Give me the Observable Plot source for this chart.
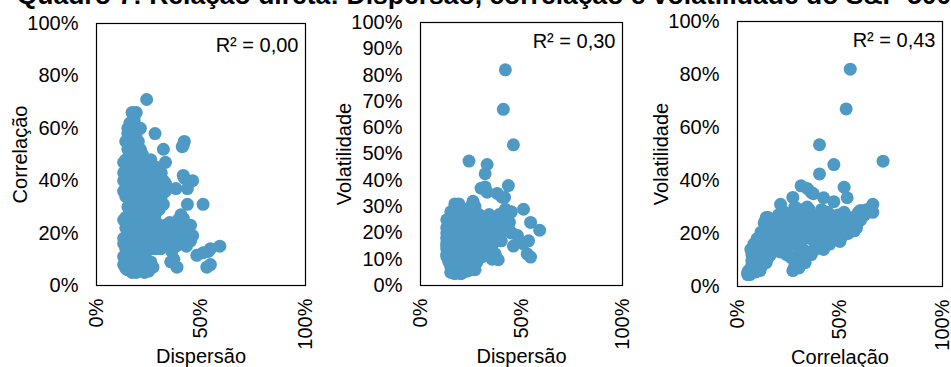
<!DOCTYPE html>
<html>
<head>
<meta charset="utf-8">
<script src="https://cdn.jsdelivr.net/npm/d3@7"></script>
<script src="https://cdn.jsdelivr.net/npm/@observablehq/plot@0.6"></script>
<style>
  html, body { margin: 0; padding: 0; background: #fff; }
  #wrap { position: relative; width: 951px; height: 367px; overflow: hidden; background: #fff; }
  #title { position: absolute; left: 0; width: 968px; top: -20px; text-align: center; white-space: nowrap;
           font: bold 26.5px "Liberation Sans", Arial, sans-serif; line-height: 30px; color: #000; }
  .panel { position: absolute; top: 0; }
</style>
</head>
<body>
<div id="wrap">
  <div id="title">Quadro 7: Relação direta: Dispersão, correlação e volatilidade do S&amp;P 500</div>
</div>
<script>
// values in percent
const dispersao = [
  17,19,21,23,25,18,15,20,22,24, 16,14,19,21,26,13,17,23,15,20, 18,27,14,16,14,13,15,14,15,16,
  14,16,18,20,22,24,26,28,30,32, 34,36,38,40,42,44,45,13,15,17, 19,21,23,25,27,29,31,33,35,37, 39,41,14,16,18,20,22,24,26,28, 13,15,17,19,21,25,30,32,34,36, 38,40,43,45,13,
  14,16,18,20,22,24,26,28,30,32, 15,17,19,21,23,25,27,29,31,14, 16,18,20,22,24,26,28,30,15,17, 19,21,23,25,27,29,31,33,13,13, 22,18,20,24,26,
  14,16,18,20,22,24,15,17,19,21, 23,14,16,18,20,22,15,17,19,21, 14,16,18,20,15,17,19,16,18,25, 27,29,31,15,13,26,
  42,41,46,24,33,32,32,43.5,38,41.5, 41.5,51,42,54.5,59,51,53.5,54.5,52.8,48, 46,38.5,37,35.5,30.6,26,17,19,27,28, 21,15,17,13,43.5,41.6,44,30,33,40.4
];
const correlacao = [
  5,5,5.5,5,5.5,7,7,8,8,7, 9,10,10,11,9,11,12,12,6,6, 9,7,8,11,6.5,8,9.5,11.5,13,14,
  14,15,13,14,15,13,16,14,15,17, 16,18,20,19,22,21,17,18,20,19, 21,18,20,22,19,21,20,23,24,22, 25,16,22,24,25,23,24,18,21,25, 16,17,23,16,20,17,23,18,20,13, 15,24,15,23,25,
  26,28,27,29,26,28,30,27,29,31, 30,32,31,33,30,27,28,32,34,34, 35,33,36,35,37,38,36,38,38,39, 37,40,39,34,33,35,37,39,36,40, 33,30,26,32,25,
  41,42,43,41,44,42,45,46,45,47, 46,48,50,49,51,50,52,53,54,52, 55,56,57,55,58,59,58,62,63,44, 42,45,43,44,43,48,
  55,53,40,71,47,40,52,31,37,42, 53.5,31,41,14,15,12.5,13,8,7,11.5, 19,7,10,9,14,47,21,66,28,58, 60,60,66,47,37,25.5,19,34,36,27
];
const volatilidade = [
  4.5,5,5,5.5,6,6,7,6,7,8, 8,9,7,9,7,11,10,8,5,4.5, 5.5,6,12,6,14,16,18,20.5,24,26,
  10,12,9,11,13,10,12,9,11,14, 13,16,18,20,22,24,20,14,16,18, 13,15,17,14,16,19,21,18,22,25, 27,23,20,22,19,21,12,19,23,24, 12,22,25,20,24,22,26,24,27,18, 21,17,26,28,15,
  16,18,20,22,24,26,28,20,17,15, 12,14,10,9,7,6,8,11,13,21, 23,25,27,29,19,16,12,14,20,17, 22,24,26,30,28,25,22,19,18,22, 13,15,11,18,21,
  17,20,23,26,28,14,16,19,22,25, 18,21,24,27,19,17,22,25,20,28, 23,26,21,24,25,28,23,27,29,21, 24,27,22,28,25,26,
  82,67,53.5,47.3,46,42.5,37.5,38,35,33.5, 33.5,29,29,24,21,15.8,17,10.8,12,19, 15,9.8,12,10,11,32,31,31,30,22, 28.7,25,28,20,24,22,21,37,35.5,33.6
];
const xTicks = [0, 50, 100];
const yTicks20 = [0, 20, 40, 60, 80, 100];
const yTicks10 = [0, 10, 20, 30, 40, 50, 60, 70, 80, 90, 100];
const r2Labels = ["R² = 0,00", "R² = 0,30", "R² = 0,43"];

const data = dispersao.map((d, i) => ({disp: d, corr: correlacao[i], vol: volatilidade[i]}));
const pct = d => `${d}%`;
const COLOR = "#4E9AC5";
const FONT = "'Liberation Sans', Arial, sans-serif";

const panels = [
  {left: 0, x: "disp", y: "corr", xLabel: "Dispersão", yLabel: "Correlação", yTicks: yTicks20, r2: r2Labels[0],
   ml: 96, mr: 12, mt: 23, mb: 82, r2dy: 14},
  {left: 317, x: "disp", y: "vol", xLabel: "Dispersão", yLabel: "Volatilidade", yTicks: yTicks10, r2: r2Labels[1],
   ml: 103, mr: 12, mt: 22, mb: 82, r2dy: 11},
  {left: 634, x: "corr", y: "vol", xLabel: "Correlação", yLabel: "Volatilidade", yTicks: yTicks20, r2: r2Labels[2],
   ml: 103, mr: 9, mt: 21, mb: 81, r2dy: 11}
];

const wrap = document.getElementById("wrap");
for (const p of panels) {
  const chart = Plot.plot({
    width: 317, height: 367,
    marginLeft: p.ml, marginRight: p.mr, marginTop: p.mt, marginBottom: p.mb,
    style: {fontFamily: FONT, fontSize: "20px", color: "#000", background: "transparent", overflow: "visible"},
    x: {domain: [0, 100]},
    y: {domain: [0, 100]},
    marks: [
      Plot.axisX({ticks: xTicks, tickFormat: pct, tickRotate: -90, tickSize: 0, tickPadding: 13,
                  label: p.xLabel, labelAnchor: "center", labelArrow: "none", labelOffset: 77, fontSize: 20}),
      Plot.axisY({ticks: p.yTicks, tickFormat: pct, tickSize: 0, tickPadding: 18,
                  label: p.yLabel, labelAnchor: "center", labelArrow: "none", labelOffset: 84, fontSize: 20}),
      Plot.dot(data, {x: p.x, y: p.y, r: 6.5, fill: COLOR, stroke: null}),
      Plot.frame({stroke: "#000", strokeWidth: 1.2}),
      Plot.text([p.r2], {text: d => d, frameAnchor: "top-right", dx: -7, dy: p.r2dy, lineAnchor: "top",
                         textAnchor: "end", fontSize: 20, fill: "#000"})
    ]
  });
  const div = document.createElement("div");
  div.className = "panel";
  div.style.left = p.left + "px";
  div.appendChild(chart);
  wrap.appendChild(div);
}
</script>
</body>
</html>
